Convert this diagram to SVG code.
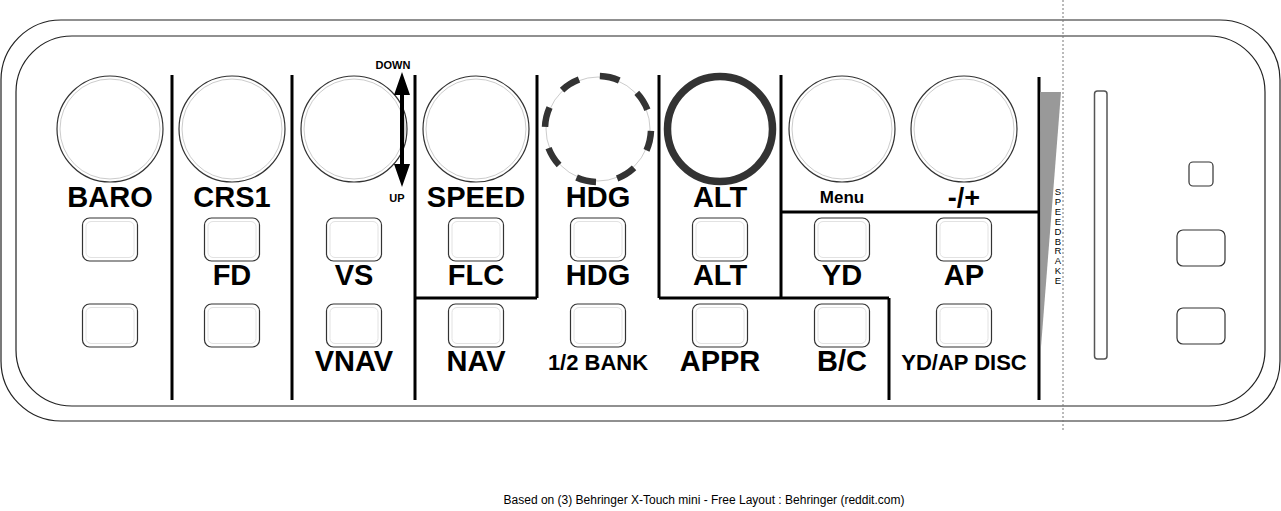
<svg xmlns="http://www.w3.org/2000/svg" width="1281" height="511" viewBox="0 0 1281 511">
<style>
.frame{fill:none;stroke:#222;stroke-width:1.2}
.knob{fill:#fff;stroke:#333;stroke-width:1.2}
.knobin{fill:none;stroke:#ccc;stroke-width:1}
.btn{fill:#fff;stroke:#333;stroke-width:1.2}
.btnin{fill:none;stroke:#e2e2e2;stroke-width:1}
.div{stroke:#000;stroke-width:3;fill:none}
.lbl{font-family:"Liberation Sans",Arial,sans-serif;font-weight:bold;fill:#000;text-anchor:middle}
.big{font-size:29px}
.mid{font-size:22px}
.sm{font-size:11px}
</style>
<defs>
<g id="knobShape"><circle class="knob" r="53"/><circle class="knobin" r="50"/></g>
<g id="btnShape"><rect class="btn" x="-27.5" y="0" width="55" height="43" rx="7"/><rect class="btnin" x="-24" y="3.5" width="48" height="36" rx="5"/></g>
</defs>
<rect width="1281" height="511" fill="#fff"/>
<g id="body">
<rect class="frame" x="1" y="20" width="1279" height="401" rx="60"/>
<rect class="frame" x="16" y="36" width="1249" height="370" rx="56"/>
<line x1="1063" y1="0" x2="1063" y2="431" stroke="#777" stroke-width="1" stroke-dasharray="2 2"/>
</g>
<g id="connectors">
<line class="div" x1="172" y1="75" x2="172" y2="400"/>
<line class="div" x1="292" y1="75" x2="292" y2="400"/>
<line class="div" x1="415" y1="75" x2="415" y2="400"/>
<line class="div" x1="537" y1="75" x2="537" y2="298"/>
<line class="div" x1="659" y1="75" x2="659" y2="298"/>
<line class="div" x1="781" y1="75" x2="781" y2="298"/>
<line class="div" x1="889" y1="298" x2="889" y2="400"/>
<line class="div" x1="1039" y1="77" x2="1039" y2="400"/>
<line class="div" x1="415" y1="298" x2="537" y2="298"/>
<line class="div" x1="659" y1="298" x2="889" y2="298"/>
<line class="div" x1="781" y1="212" x2="1039" y2="212"/>
</g>
<g id="knob-baro"><use href="#knobShape" x="110" y="129"/></g>
<g id="knob-crs1"><use href="#knobShape" x="232" y="129"/></g>
<g id="knob-vs"><use href="#knobShape" x="354" y="129"/>
<path d="M401 107 A52 52 0 0 1 401 151 Z" fill="#ccc"/>
<polygon points="402,72 410,95 404,95 404,164 410,164 402,187 394,164 400,164 400,95 394,95" fill="#000"/>
<text class="lbl sm" x="393" y="69">DOWN</text>
<text class="lbl sm" x="397" y="202">UP</text>
</g>
<g id="knob-speed"><use href="#knobShape" x="476" y="129"/></g>
<g id="knob-hdg"><circle cx="598" cy="129" r="52" fill="#fff" stroke="#ccc" stroke-width="1"/><circle cx="598" cy="129" r="53" fill="none" stroke="#333" stroke-width="6.5" stroke-dasharray="20 21.6" transform="rotate(-88 598 129)"/></g>
<g id="knob-alt"><circle cx="720" cy="129" r="52.5" fill="#fff" stroke="#333" stroke-width="7.5"/></g>
<g id="knob-menu"><use href="#knobShape" x="842" y="129"/></g>
<g id="knob-plusminus"><use href="#knobShape" x="964" y="129"/></g>
<g id="labels-top">
<text class="lbl big" x="110" y="207">BARO</text>
<text class="lbl big" x="232" y="207">CRS1</text>
<text class="lbl big" x="476" y="207">SPEED</text>
<text class="lbl big" x="598" y="207">HDG</text>
<text class="lbl big" x="720" y="207">ALT</text>
<text class="lbl" x="842" y="203" font-size="17">Menu</text>
<text class="lbl" x="964" y="207" font-size="27">-/+</text>
</g>
<g id="buttons-row1">
<use href="#btnShape" x="110" y="218"/><use href="#btnShape" x="232" y="218"/><use href="#btnShape" x="354" y="218"/><use href="#btnShape" x="476" y="218"/>
<use href="#btnShape" x="598" y="218"/><use href="#btnShape" x="720" y="218"/><use href="#btnShape" x="842" y="218"/><use href="#btnShape" x="964" y="218"/>
</g>
<g id="buttons-row2">
<use href="#btnShape" x="110" y="304"/><use href="#btnShape" x="232" y="304"/><use href="#btnShape" x="354" y="304"/><use href="#btnShape" x="476" y="304"/>
<use href="#btnShape" x="598" y="304"/><use href="#btnShape" x="720" y="304"/><use href="#btnShape" x="842" y="304"/><use href="#btnShape" x="964" y="304"/>
</g>
<g id="labels-row2">
<text class="lbl big" x="232" y="285">FD</text>
<text class="lbl big" x="354" y="285">VS</text>
<text class="lbl big" x="476" y="285">FLC</text>
<text class="lbl big" x="598" y="285">HDG</text>
<text class="lbl big" x="720" y="285">ALT</text>
<text class="lbl big" x="842" y="285">YD</text>
<text class="lbl big" x="964" y="285">AP</text>
</g>
<g id="labels-row3">
<text class="lbl big" x="354" y="371">VNAV</text>
<text class="lbl big" x="476" y="371">NAV</text>
<text class="lbl mid" x="598" y="370">1/2 BANK</text>
<text class="lbl big" x="720" y="371">APPR</text>
<text class="lbl big" x="842" y="371">B/C</text>
<text class="lbl mid" x="964" y="370">YD/AP DISC</text>
</g>
<g id="speedbrake">
<polygon points="1040,92 1061,92 1041,347" fill="#999"/>
<text font-family="'Liberation Sans',Arial,sans-serif" font-size="9.5" fill="#000" text-anchor="middle"><tspan x="1058" y="195">S</tspan><tspan x="1058" dy="9.9">P</tspan><tspan x="1058" dy="9.9">E</tspan><tspan x="1058" dy="9.9">E</tspan><tspan x="1058" dy="9.9">D</tspan><tspan x="1058" dy="9.9">B</tspan><tspan x="1058" dy="9.9">R</tspan><tspan x="1058" dy="9.9">A</tspan><tspan x="1058" dy="9.9">K</tspan><tspan x="1058" dy="9.9">E</tspan></text>
</g>
<g id="slider"><rect x="1094.5" y="91" width="12.5" height="268" rx="3" fill="#fff" stroke="#555" stroke-width="1.5"/></g>
<g id="btn-small"><rect x="1189" y="162" width="24" height="24" rx="4" fill="#fff" stroke="#333" stroke-width="1.2"/></g>
<g id="btn-right1"><rect x="1177" y="230" width="48" height="36" rx="6" fill="#fff" stroke="#333" stroke-width="1.2"/></g>
<g id="btn-right2"><rect x="1177" y="308" width="48" height="36" rx="6" fill="#fff" stroke="#333" stroke-width="1.2"/></g>
<g id="footer"><text x="704" y="504" font-family="'Liberation Sans',Arial,sans-serif" font-size="12" fill="#000" text-anchor="middle">Based on (3) Behringer X-Touch mini - Free Layout : Behringer (reddit.com)</text></g>
</svg>
